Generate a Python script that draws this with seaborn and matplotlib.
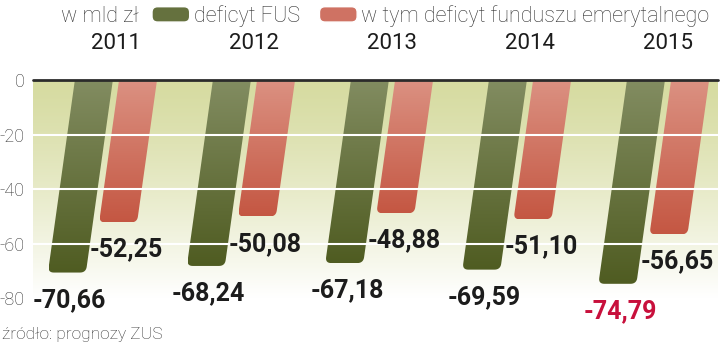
import numpy as np
import pandas as pd
import matplotlib
matplotlib.use("Agg")
import matplotlib.pyplot as plt
import seaborn as sns
from matplotlib.patches import Polygon, Patch, FancyBboxPatch
from matplotlib.legend_handler import HandlerPatch

# ---- data ----
years = ["2011", "2012", "2013", "2014", "2015"]
deficyt_fus = [-70.66, -68.24, -67.18, -69.59, -74.79]
deficyt_emer = [-52.25, -50.08, -48.88, -51.10, -56.65]
labels_fus = ["-70,66", "-68,24", "-67,18", "-69,59", "-74,79"]
labels_emer = ["-52,25", "-50,08", "-48,88", "-51,10", "-56,65"]
series_names = ["deficyt FUS", "w tym deficyt funduszu emerytalnego"]
yticks = [0, -20, -40, -60, -80]
unit_label = "w mld zł"
source_text = "źródło: prognozy ZUS"

# ---- style ----
sns.set_theme(style="white")
plt.rcParams["font.family"] = ["Roboto", "DejaVu Sans"]

green_top = np.array([0.51, 0.55, 0.38])
green_bot = np.array([0.31, 0.36, 0.13])
red_top = np.array([0.86, 0.57, 0.51])
red_bot = np.array([0.77, 0.34, 0.26])
green_mid = "#65713e"
red_mid = "#cf7263"
text_dark = "#1c1c1c"
text_gray = "#333333"
highlight = "#c8103c"

W, H = 720, 346
fig = plt.figure(figsize=(W / 100, H / 100), dpi=100)
ax = fig.add_axes([33 / W, 48 / H, 685 / W, 218 / H])

df = pd.DataFrame({
    "rok": years * 2,
    "seria": [series_names[0]] * len(years) + [series_names[1]] * len(years),
    "wartosc": deficyt_fus + deficyt_emer,
})
sns.barplot(data=df, x="rok", y="wartosc", hue="seria",
            palette=[green_mid, red_mid], width=0.64, gap=0.14,
            saturation=1, legend=False, ax=ax)

xlim = (-0.601, 4.362)
ax.set_xlim(*xlim)
ax.set_ylim(-80, 0)

# background gradient
t = np.linspace(0, 1, 256)[:, None]
bg_top = np.array([0.84, 0.86, 0.63])
tt = t ** 1.25
bg = bg_top[None, None, :] + (1 - bg_top)[None, None, :] * tt[:, :, None]
ax.imshow(bg, extent=(xlim[0], xlim[1], -80, 0), aspect="auto",
          origin="upper", zorder=0, interpolation="bilinear")

T = ax.transData
Tinv = T.inverted()
slant_k = 0.14  # horizontal shift per vertical pixel


def corner(P, A, B, r, n=10):
    ua = (A - P) / np.linalg.norm(A - P)
    ub = (B - P) / np.linalg.norm(B - P)
    p1 = P + r * ua
    p2 = P + r * ub
    s = np.linspace(0, 1, n)[:, None]
    return (1 - s) ** 2 * p1 + 2 * (1 - s) * s * P + s ** 2 * p2


label_sets = [labels_fus, labels_emer]
grad_cols = [(green_top, green_bot), (red_top, red_bot)]
dxs = [2, 6]

for ci, cont in enumerate(ax.containers):
    ctop, cbot = grad_cols[ci]
    for bi, bar in enumerate(cont):
        x = bar.get_x()
        w = bar.get_width()
        h = bar.get_height()
        bar.set_visible(False)
        xl, y0 = T.transform((x, 0))
        xr, _ = T.transform((x + w, 0))
        _, yb = T.transform((x, h))
        s = slant_k * (y0 - yb)
        TL = np.array([xl, y0]); TR = np.array([xr, y0])
        BR = np.array([xr - s, yb]); BL = np.array([xl - s, yb])
        pts = np.vstack([TL, TR, corner(BR, TR, BL, 6), corner(BL, BR, TL, 6)])
        dpts = Tinv.transform(pts)
        poly = Polygon(dpts, closed=True, fc="none", ec="none")
        ax.add_patch(poly)
        g = ctop[None, None, :] + (cbot - ctop)[None, None, :] * t[:, :, None]
        im = ax.imshow(g, extent=(dpts[:, 0].min(), dpts[:, 0].max(), h, 0),
                       aspect="auto", origin="upper", zorder=2,
                       interpolation="bilinear")
        im.set_clip_path(poly)
        # value label
        bx_px = (xl + xr) / 2 - s
        bx = Tinv.transform((bx_px, yb))[0]
        col = highlight if (ci == 0 and bi == len(years) - 1) else text_dark
        ax.annotate(label_sets[ci][bi], xy=(bx, h), xytext=(dxs[ci], -11),
                    textcoords="offset points", ha="center", va="top",
                    fontsize=18, fontweight="bold", color=col,
                    annotation_clip=False, zorder=5)

ax.set_xlim(*xlim)
ax.set_ylim(-80, 0)

for yv in (-20, -40, -60):
    ax.axhline(yv, color="white", lw=1.5, zorder=3)
ax.axhline(0, color="#2b2b2b", lw=2, zorder=4, clip_on=False)

for sp in ax.spines.values():
    sp.set_visible(False)

ax.set_yticks(yticks)
ax.set_yticklabels([str(v) for v in yticks])
ax.tick_params(axis="y", length=0, pad=6, labelsize=13, labelcolor=text_gray)
for lbl in ax.get_yticklabels():
    lbl.set_fontweight("light")

ax.xaxis.tick_top()
ax.set_xticks(range(len(years)))
ax.set_xticklabels(years)
ax.tick_params(axis="x", length=0, pad=19, labelsize=16, labelcolor=text_dark)
ax.set_xlabel("")
ax.set_ylabel("")
ax.grid(False)


def round_patch(legend, orig_handle, xdescent, ydescent, width, height, fontsize):
    return FancyBboxPatch((-xdescent, -ydescent), width, height,
                          boxstyle="round,pad=0,rounding_size=4",
                          fc=orig_handle.get_facecolor(), ec="none")


handles = [Patch(fc=green_mid), Patch(fc=red_mid)]
leg = fig.legend(handles, series_names, loc="center left",
                 bbox_to_anchor=(152 / W, 1 - 16 / H), ncols=2, frameon=False,
                 fontsize=15.5, handlelength=1.75, handleheight=0.72,
                 handletextpad=0.2, columnspacing=0.9, borderpad=0,
                 borderaxespad=0,
                 handler_map={Patch: HandlerPatch(patch_func=round_patch)})
for tx in leg.get_texts():
    tx.set_color(text_gray)
    tx.set_fontweight("light")

fig.text(61 / W, 1 - 16 / H, unit_label, ha="left", va="center",
         fontsize=15.5, color=text_gray, fontweight="light")
fig.text(2 / W, 1 - 335 / H, source_text, ha="left", va="center",
         fontsize=12.5, color=text_gray, fontweight="light")

fig.savefig("out.png", dpi=100)
